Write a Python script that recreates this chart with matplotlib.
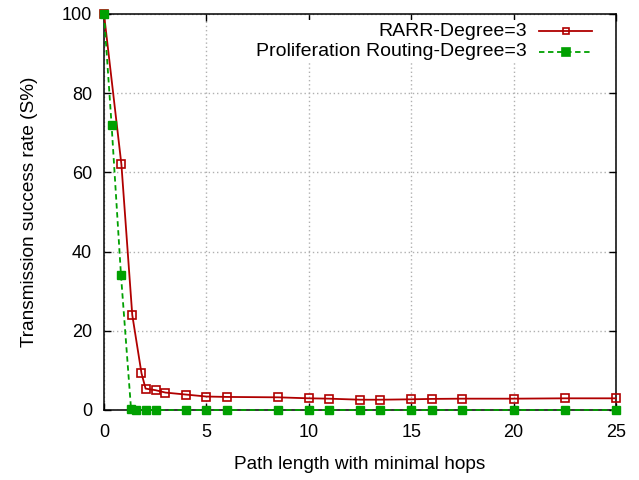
import matplotlib
matplotlib.use("Agg")
import matplotlib.pyplot as plt
from matplotlib.lines import Line2D
from matplotlib.patches import Rectangle

plt.rcParams['font.family'] = ['Liberation Sans', 'DejaVu Sans']

rarr_x = [0, 0.85, 1.38, 1.83, 2.03, 2.52, 3, 4, 5, 6, 8.5, 10, 11, 12.5, 13.5, 15, 16, 17.5, 20, 22.5, 25]
rarr_y = [100, 62, 24, 9.3, 5.4, 5.0, 4.4, 3.9, 3.4, 3.3, 3.2, 2.95, 2.86, 2.6, 2.6, 2.7, 2.8, 2.86, 2.86, 2.95, 2.95]
prol_x = [0, 0.37, 0.83, 1.32, 1.55, 2.03, 2.52, 4, 5, 6, 8.5, 10, 11, 12.5, 13.5, 15, 16, 17.5, 20, 22.5, 25]
prol_y = [100, 72, 34, 0.3, 0.1, 0, 0, 0, 0, 0, 0, 0, 0, 0, 0, 0, 0, 0, 0, 0, 0]
labels = ["RARR-Degree=3", "Proliferation Routing-Degree=3"]
xticks = [0, 5, 10, 15, 20, 25]
yticks = [0, 20, 40, 60, 80, 100]

red = '#b00000'
green = '#00a000'

fig = plt.figure(figsize=(6.39, 4.8), dpi=100)
ax = fig.add_axes([104/639, 1-410/480, 512/639, 396/480])

ax.plot(rarr_x, rarr_y, color=red, lw=1.3, marker='s', ms=6, mfc='none', mec=red, mew=1.2, zorder=3, clip_on=False)
ax.plot(prol_x, prol_y, color=green, lw=1.3, ls=(0, (3, 2)), marker='s', ms=5.5, mfc=green, mec=green, zorder=4, clip_on=False)

ax.set_xlim(0, 25)
ax.set_ylim(0, 100)
ax.set_xticks(xticks)
ax.set_yticks(yticks)
ax.tick_params(direction='in', length=5, width=1, top=True, right=True, labelsize=13, colors='black')
ax.tick_params(axis='x', pad=10)
ax.tick_params(axis='y', pad=8.5)
ax.grid(True, color='#b0b0b0', ls=(0, (1, 2)), lw=1)
for s in ax.spines.values():
    s.set_linewidth(1.1)
ax.set_xlabel("Path length with minimal hops", fontsize=13.7, labelpad=11)
ax.set_ylabel("Transmission success rate (S%)", fontsize=13.7, labelpad=17)

# gnuplot-style key: white background box, right-aligned labels, sample on the right
fig.patches.append(Rectangle((235/639, 1-62/480), 375/639, 42/480, transform=fig.transFigure,
                             facecolor='white', edgecolor='none', zorder=2))
ax.set_zorder(1)
ax.patch.set_visible(False)
rows = [(31, red, '-', 'none'), (52, green, (0, (3, 2)), green)]
for (yy, c, ls, mfc), lab in zip(rows, labels):
    yf = 1 - yy/480
    fig.text(527/639, yf, lab, ha='right', va='center', fontsize=14, zorder=5)
    fig.add_artist(Line2D([539/639, 592/639], [yf, yf], color=c, lw=1.3, ls=ls,
                          transform=fig.transFigure, zorder=5))
    fig.add_artist(Line2D([566/639], [yf], color=c, marker='s', ms=5 if mfc == 'none' else 5.5, mfc=mfc, mec=c,
                          mew=1.2, ls='none', transform=fig.transFigure, zorder=6))

fig.savefig("out.png", dpi=100)
